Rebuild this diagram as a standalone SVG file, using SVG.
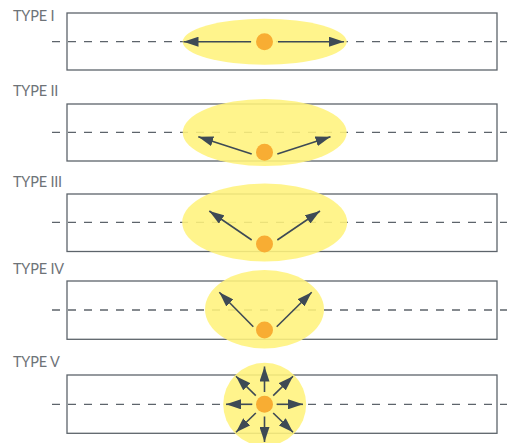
<svg xmlns="http://www.w3.org/2000/svg" width="507" height="443" viewBox="0 0 507 443">
<style>
.lbl{font-family:Lato,"Open Sans","Liberation Sans",sans-serif;font-size:14.5px;fill:#6e7378;font-weight:normal;letter-spacing:-0.2px}
.box{fill:none;stroke:#5d646b;stroke-width:1.3}
.axis{stroke:#5d646b;stroke-width:1.3;stroke-dasharray:8 8;fill:none}
.glow{fill:#fff37c;opacity:0.88}
.src{fill:#f8ad33}
.arr{stroke:#3e4a55;stroke-width:1.6;fill:none;marker-end:url(#ah)}
</style>
<defs>
<marker id="ah" markerUnits="userSpaceOnUse" markerWidth="16" markerHeight="10" refX="15" refY="5" orient="auto">
<path d="M0,0 L15,5 L0,10 Z" fill="#3e4a55"/>
</marker>
</defs>
<g id="type1">
<text class="lbl" x="13" y="21">TYPE I</text>
<rect class="box" x="67" y="13" width="430" height="57"/>
<line class="axis" x1="52" y1="41.7" x2="507" y2="41.7"/>
<ellipse class="glow" cx="264.7" cy="41.7" rx="82" ry="23"/>
<circle class="src" cx="264.5" cy="41.7" r="8.5"/>
</g>
<g id="type2">
<text class="lbl" x="13" y="96">TYPE II</text>
<rect class="box" x="67" y="104" width="430" height="57"/>
<line class="axis" x1="52" y1="132.3" x2="507" y2="132.3"/>
<ellipse class="glow" cx="264.7" cy="132.5" rx="82" ry="33.5"/>
<circle class="src" cx="264.5" cy="152.3" r="8.5"/>
</g>
<g id="type3">
<text class="lbl" x="13" y="187">TYPE III</text>
<rect class="box" x="67" y="194" width="430" height="57.5"/>
<line class="axis" x1="52" y1="222.3" x2="507" y2="222.3"/>
<ellipse class="glow" cx="264.7" cy="222.5" rx="82.5" ry="39"/>
<circle class="src" cx="264.5" cy="244" r="8.5"/>
</g>
<g id="type4">
<text class="lbl" x="13" y="274">TYPE IV</text>
<rect class="box" x="67" y="281" width="430" height="58.3"/>
<line class="axis" x1="52" y1="310" x2="507" y2="310"/>
<ellipse class="glow" cx="264.5" cy="309.2" rx="59.5" ry="39.2"/>
<circle class="src" cx="264.5" cy="330" r="8.5"/>
</g>
<g id="type5">
<text class="lbl" x="13" y="367">TYPE V</text>
<rect class="box" x="67" y="375" width="430" height="58.3"/>
<line class="axis" x1="52" y1="404.3" x2="507" y2="404.3"/>
<circle class="glow" cx="264.7" cy="404.3" r="41.5"/>
<circle class="src" cx="264.5" cy="404.3" r="8.5"/>
</g>
<g id="connectors">
<line class="arr" x1="251" y1="41.7" x2="183.5" y2="41.7"/>
<line class="arr" x1="278" y1="41.7" x2="344" y2="41.7"/>
<line class="arr" x1="251.7" y1="154" x2="198.3" y2="136.7"/>
<line class="arr" x1="277.3" y1="154" x2="330.5" y2="136.7"/>
<line class="arr" x1="251.7" y1="240" x2="209.3" y2="211"/>
<line class="arr" x1="277.3" y1="240" x2="320" y2="211"/>
<line class="arr" x1="253.3" y1="326.7" x2="219.3" y2="292.3"/>
<line class="arr" x1="276.7" y1="326.7" x2="311.7" y2="292.3"/>
<line class="arr" x1="264.5" y1="392" x2="264.5" y2="366.5"/>
<line class="arr" x1="264.5" y1="416.5" x2="264.5" y2="442"/>
<line class="arr" x1="252.3" y1="404.3" x2="226" y2="404.3"/>
<line class="arr" x1="276.7" y1="404.3" x2="303" y2="404.3"/>
<line class="arr" x1="255.8" y1="395.6" x2="236" y2="376.3"/>
<line class="arr" x1="273.2" y1="395.6" x2="293" y2="376.3"/>
<line class="arr" x1="255.8" y1="413" x2="236" y2="432.3"/>
<line class="arr" x1="273.2" y1="413" x2="293" y2="432.3"/>
</g>
</svg>
